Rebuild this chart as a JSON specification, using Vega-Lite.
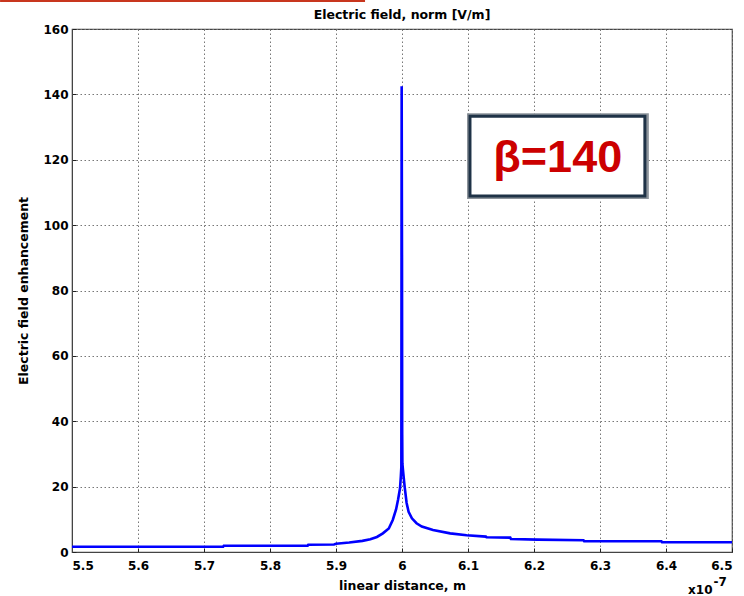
{
  "$schema": "https://vega.github.io/schema/vega-lite/v6.json",
  "width": 660,
  "height": 523,
  "autosize": {"type": "none"},
  "padding": {"left": 72, "top": 29, "right": 12, "bottom": 44},
  "background": "white",
  "title": {"text": "Electric field, norm [V/m]", "font": "DejaVu Sans", "fontSize": 12.5, "fontWeight": "bold", "color": "black", "offset": 0, "dy": 22, "anchor": "middle"},
  "config": {
    "view": {"stroke": "#444", "strokeWidth": 1.2},
    "axis": {"labelFont": "DejaVu Sans", "labelFontWeight": "bold", "labelFontSize": 12, "labelColor": "black", "titleFont": "DejaVu Sans", "titleFontWeight": "bold", "titleFontSize": 12.5, "titleColor": "black", "gridColor": "#777", "gridDash": [1.5, 2.5], "gridOpacity": 1, "gridWidth": 1, "domainColor": "#444", "tickColor": "#222", "tickSize": -4, "labelPadding": 12}
  },
  "datasets": {
    "curve": [
      {"x": 5.5, "y": 1.6}, {"x": 5.729, "y": 1.6}, {"x": 5.73, "y": 1.9}, {"x": 5.857, "y": 1.9}, {"x": 5.858, "y": 2.2}, {"x": 5.897, "y": 2.3},
      {"x": 5.9, "y": 2.5}, {"x": 5.92, "y": 2.9}, {"x": 5.94, "y": 3.4}, {"x": 5.952, "y": 3.9}, {"x": 5.962, "y": 4.6}, {"x": 5.971, "y": 5.7},
      {"x": 5.98, "y": 7.2}, {"x": 5.986, "y": 9.8}, {"x": 5.991, "y": 13}, {"x": 5.994, "y": 16}, {"x": 5.997, "y": 19.5}, {"x": 5.9982, "y": 23},
      {"x": 5.999, "y": 26}, {"x": 5.9995, "y": 142.5}, {"x": 6.0, "y": 90}, {"x": 6.0003, "y": 36}, {"x": 6.0006, "y": 27}, {"x": 6.002, "y": 24},
      {"x": 6.004, "y": 20}, {"x": 6.007, "y": 15}, {"x": 6.01, "y": 12.3}, {"x": 6.015, "y": 10.3}, {"x": 6.022, "y": 8.8}, {"x": 6.03, "y": 7.8},
      {"x": 6.047, "y": 6.7}, {"x": 6.073, "y": 5.7}, {"x": 6.098, "y": 5.1}, {"x": 6.127, "y": 4.7}, {"x": 6.128, "y": 4.5}, {"x": 6.164, "y": 4.4},
      {"x": 6.165, "y": 4.0}, {"x": 6.205, "y": 3.8}, {"x": 6.275, "y": 3.6}, {"x": 6.276, "y": 3.3}, {"x": 6.393, "y": 3.3}, {"x": 6.394, "y": 3.0},
      {"x": 6.5, "y": 3.0}
    ],
    "shadow": [{"x1": 6.0985, "x2": 6.374, "y1": 134.2, "y2": 108.0}],
    "box": [{"x1": 6.103, "x2": 6.368, "y1": 133.3, "y2": 108.9}],
    "label": [{"x": 6.236, "y": 120.5, "t": "β=140"}],
    "scale": [{"x": 6.452, "y": -13.0, "t": "x10"}],
    "exp": [{"x": 6.482, "y": -10.5, "t": "-7"}],
    "banner": [{"x1": 5.391, "x2": 5.944, "y": 168.6}]
  },
  "layer": [
    {
      "data": {"name": "curve"},
      "mark": {"type": "line", "color": "#0000ff", "strokeWidth": 2.6, "clip": true},
      "encoding": {
        "x": {"field": "x", "type": "quantitative", "scale": {"domain": [5.5, 6.5], "nice": false, "zero": false},
              "axis": {"values": [5.5, 5.6, 5.7, 5.8, 5.9, 6.0, 6.1, 6.2, 6.3, 6.4, 6.5], "format": "~g", "title": "linear distance, m", "titlePadding": 8}},
        "y": {"field": "y", "type": "quantitative", "scale": {"domain": [0, 160], "nice": false},
              "axis": {"values": [0, 20, 40, 60, 80, 100, 120, 140, 160], "title": "Electric field enhancement", "labelPadding": 8, "titlePadding": 12}}
      }
    },
    {
      "data": {"name": "shadow"},
      "mark": {"type": "rect", "color": "#8d949b"},
      "encoding": {"x": {"field": "x1", "type": "quantitative"}, "x2": {"field": "x2"}, "y": {"field": "y1", "type": "quantitative"}, "y2": {"field": "y2"}}
    },
    {
      "data": {"name": "box"},
      "mark": {"type": "rect", "fill": "white", "stroke": "#1f3347", "strokeWidth": 3},
      "encoding": {"x": {"field": "x1", "type": "quantitative"}, "x2": {"field": "x2"}, "y": {"field": "y1", "type": "quantitative"}, "y2": {"field": "y2"}}
    },
    {
      "data": {"name": "label"},
      "mark": {"type": "text", "font": "Liberation Sans", "fontWeight": "bold", "fontSize": 45, "color": "#cc0000", "baseline": "middle", "align": "center"},
      "encoding": {"x": {"field": "x", "type": "quantitative"}, "y": {"field": "y", "type": "quantitative"}, "text": {"field": "t"}}
    },
    {
      "data": {"name": "scale"},
      "mark": {"type": "text", "font": "DejaVu Sans", "fontWeight": "bold", "fontSize": 12, "color": "black", "baseline": "alphabetic", "align": "center", "clip": false},
      "encoding": {"x": {"field": "x", "type": "quantitative"}, "y": {"field": "y", "type": "quantitative"}, "text": {"field": "t"}}
    },
    {
      "data": {"name": "exp"},
      "mark": {"type": "text", "font": "DejaVu Sans", "fontWeight": "bold", "fontSize": 12, "color": "black", "baseline": "alphabetic", "align": "center", "clip": false},
      "encoding": {"x": {"field": "x", "type": "quantitative"}, "y": {"field": "y", "type": "quantitative"}, "text": {"field": "t"}}
    },
    {
      "data": {"name": "banner"},
      "mark": {"type": "rule", "color": "#c8361e", "strokeWidth": 2, "clip": false},
      "encoding": {"x": {"field": "x1", "type": "quantitative"}, "x2": {"field": "x2"}, "y": {"field": "y", "type": "quantitative"}}
    }
  ]
}
